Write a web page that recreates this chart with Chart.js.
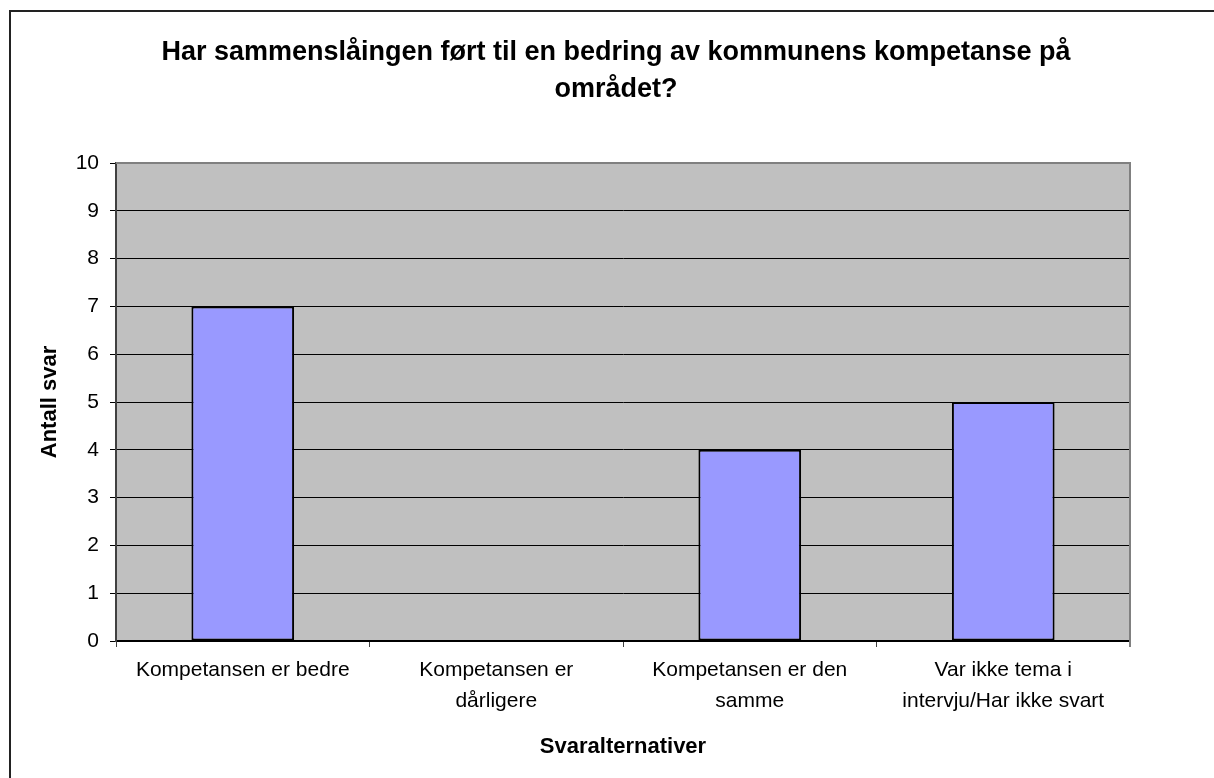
<!DOCTYPE html>
<html>
<head>
<meta charset="utf-8">
<script src="https://cdn.jsdelivr.net/npm/chart.js@4"></script>
<style>
  html, body { margin: 0; padding: 0; background: #fff; }
  #wrap { width: 1214px; height: 778px; position: relative; }
</style>
</head>
<body>
<div id="wrap"><canvas id="c" width="1214" height="778"></canvas></div>
<script>
const categories = [
  'Kompetansen er bedre',
  ['Kompetansen er', 'dårligere'],
  ['Kompetansen er den', 'samme'],
  ['Var ikke tema i', 'intervju/Har ikke svart']
];
const answers = [7, 0, 4, 5];
const yTicks = [0, 1, 2, 3, 4, 5, 6, 7, 8, 9, 10];
const titleLines = ['Har sammenslåingen ført til en bedring av kommunens kompetanse på', 'området?'];
const yTitle = 'Antall svar';
const xTitle = 'Svaralternativer';

const FONT = '"Liberation Sans", Arial, sans-serif';

const frame = {
  id: 'frame',
  beforeDraw(chart) {
    const ctx = chart.ctx;
    const a = chart.chartArea;
    ctx.save();
    ctx.fillStyle = '#fff';
    ctx.fillRect(0, 0, chart.width, chart.height);
    ctx.strokeStyle = '#222';
    ctx.lineWidth = 2;
    ctx.strokeRect(10, 11, 2000, 2000);
    ctx.fillStyle = '#C0C0C0';
    ctx.fillRect(a.left, a.top, a.right - a.left, a.bottom - a.top);
    ctx.restore();
  },
  afterDatasetsDraw(chart) {
    const ctx = chart.ctx;
    const a = chart.chartArea;
    ctx.save();
    ctx.strokeStyle = '#808080';
    ctx.lineWidth = 2;
    ctx.beginPath();
    ctx.moveTo(a.left, a.top);
    ctx.lineTo(a.right, a.top);
    ctx.lineTo(a.right, a.bottom + 6);
    ctx.stroke();
    ctx.restore();
  }
};

new Chart(document.getElementById('c'), {
  type: 'bar',
  data: {
    labels: categories,
    datasets: [{
      data: answers,
      backgroundColor: '#9999FF',
      borderColor: '#000000',
      borderWidth: 2,
      borderSkipped: false,
      categoryPercentage: 1.0,
      barPercentage: 0.405
    }]
  },
  options: {
    responsive: false,
    animation: false,
    devicePixelRatio: 1,
    layout: { padding: { left: 18, top: 11, right: 0, bottom: 0 } },
    plugins: {
      legend: { display: false },
      tooltip: { enabled: false },
      title: {
        display: true,
        text: titleLines,
        color: '#000',
        font: { family: FONT, size: 27, weight: 'bold', lineHeight: 37 / 27 },
        padding: { top: 23, bottom: 55 }
      }
    },
    scales: {
      x: {
        grid: { offset: true, drawOnChartArea: false, drawTicks: true, tickLength: 6, color: '#404040', lineWidth: 1 },
        border: { display: true, color: '#000', width: 2 },
        ticks: { color: '#000', font: { family: FONT, size: 21, lineHeight: 31 / 21 }, padding: 8, maxRotation: 0, autoSkip: false },
        title: { display: true, text: xTitle, color: '#000', font: { family: FONT, size: 22, weight: 'bold', lineHeight: 1.2 }, padding: { top: 0, bottom: 18 } },
        afterFit(s) { s.height = 137; }
      },
      y: {
        min: 0, max: 10,
        afterBuildTicks(s) { s.ticks = yTicks.map(v => ({ value: v })); },
        grid: { color: '#000', lineWidth: 1, tickLength: 6, drawTicks: true },
        border: { display: true, color: '#404040', width: 2 },
        ticks: { color: '#000', font: { family: FONT, size: 21 }, padding: 11 },
        title: { display: true, text: yTitle, color: '#000', font: { family: FONT, size: 22, weight: 'bold', lineHeight: 1.2 }, padding: { top: 19, bottom: 0 } },
        afterFit(s) { s.width = 98; }
      },
      yRight: {
        position: 'right',
        display: true,
        grid: { display: false },
        border: { display: false },
        ticks: { display: false },
        afterFit(s) { s.width = 84; }
      }
    }
  },
  plugins: [frame]
});
</script>
</body>
</html>
